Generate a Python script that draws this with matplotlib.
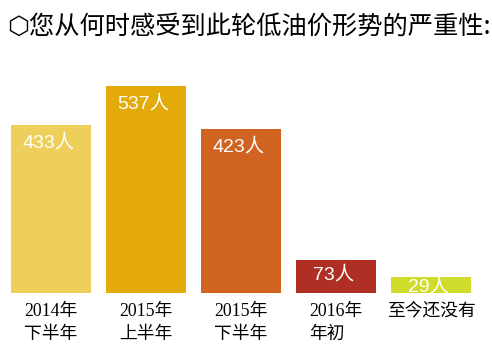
import matplotlib.pyplot as plt

# data
categories = ["2014年\n下半年", "2015年\n上半年", "2015年\n下半年", "2016年\n年初", "至今还没有"]
values = [433, 537, 423, 73, 29]
value_labels = ["433人", "537人", "423人", "73人", "29人"]
colors = ["#EFCF5C", "#E3AA0A", "#D0631F", "#AF2F24", "#D0DC2C"]

title = "⬡您从何时感受到此轮低油价形势的严重性:"

# the bars in the original start a little below zero
base = -15

fig = plt.figure(figsize=(4.92, 3.59), dpi=100)
ax = fig.add_axes([0, 66 / 359, 1, 230.6 / 359])

x = list(range(len(values)))
ax.bar(x, [v - base for v in values], bottom=base, width=0.84, color=colors)
ax.set_xlim(-51 / 95, (492 - 51) / 95)
ax.set_ylim(base, 600)
ax.axis("off")

# white value labels inside the bars
for i, (v, lab) in enumerate(zip(values, value_labels)):
    if v > 300:
        dy = -6.5
    elif v > 50:
        dy = -4
    else:
        dy = -1
    ax.annotate(lab, (i, v), xytext=(-2, dy), textcoords="offset points",
                ha="center", va="top", color="white", fontsize=14,
                family=["Liberation Sans", "Noto Sans CJK SC"])

# category labels under the bars
for i, c in enumerate(categories):
    ax.annotate(c, (i, base), xytext=(0, -7), textcoords="offset points",
                ha="center", va="top", multialignment="left", fontsize=12.8,
                linespacing=1.45, family=["Liberation Serif", "Noto Sans CJK SC"])

fig.text(0.015, 0.925, title, fontsize=18.2, ha="left", va="center",
         family=["Noto Sans CJK SC", "DejaVu Sans"])

plt.savefig("out.png")
